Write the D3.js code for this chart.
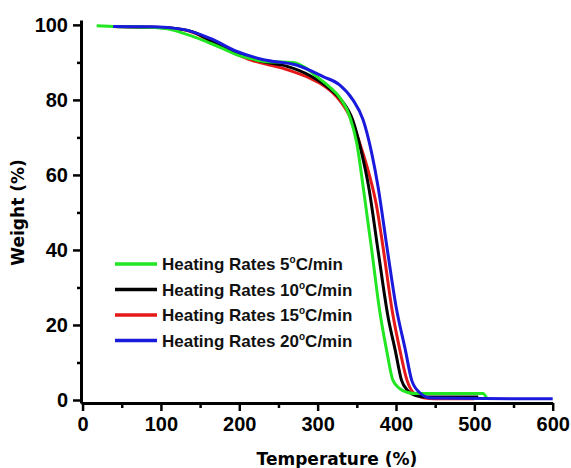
<!DOCTYPE html>
<html>
<head>
<meta charset="utf-8">
<script src="https://cdn.jsdelivr.net/npm/d3@7"></script>
<style>
  html, body { margin: 0; padding: 0; background: #fff; }
  svg { display: block; }
</style>
</head>
<body>
<div id="chart"></div>
<script>
// TGA curves, weight (%) vs temperature, four heating rates

const seriesNames = ['5', '10', '15', '20'];
const seriesColors = ['#22e622', '#000000', '#e41a1a', '#1a1adc'];

const temp5 = [18, 40, 80, 110, 128, 145, 163, 180, 197, 215, 235, 269, 285, 299, 315, 329, 341, 350, 358, 369, 379, 388, 396, 405, 415, 426, 460, 511, 516];
const weight5 = [99.8, 99.6, 99.4, 98.9, 97.8, 96.6, 95.1, 93.6, 92.0, 91.0, 90.2, 90.0, 88.5, 86.2, 83.5, 80.4, 75.6, 68.4, 57, 40, 24, 13.3, 5.3, 3.0, 2.0, 1.7, 1.7, 1.7, 0.4];

const temp10 = [40, 80, 120, 145, 163, 197, 230, 260, 290, 315, 330, 345, 356, 365, 377, 390, 399, 407, 415, 425, 440, 505];
const weight10 = [99.6, 99.4, 99.0, 97.8, 95.8, 92.4, 90.2, 89.0, 86.5, 83.0, 80, 74.5, 66, 57, 40, 22, 13.3, 5.3, 2.5, 1.2, 0.8, 0.8];

const temp15 = [40, 80, 120, 145, 163, 197, 214, 256, 290, 310, 324, 341, 356, 366, 375, 384, 395, 405, 414, 422, 435, 450, 500];
const weight15 = [99.6, 99.4, 99.0, 97.7, 95.6, 92.2, 90.7, 88.4, 85.8, 83.5, 80.9, 75.6, 67, 60, 52, 40, 24, 13.3, 5.3, 2.0, 0.6, 0.3, 0.3];

const temp20 = [39, 86, 128, 163, 197, 231, 273, 307, 328, 345, 358, 369, 377, 389, 400, 412, 420, 430, 445, 600];
const weight20 = [99.6, 99.5, 98.8, 96.4, 92.9, 90.7, 89.3, 86.2, 84.0, 80.0, 74.7, 65.8, 57, 40, 25, 13.3, 5.3, 2.0, 0.5, 0.3];

const xMajor = [0, 100, 200, 300, 400, 500, 600];
const xMinor = [50, 150, 250, 350, 450, 550];
const yMajor = [0, 20, 40, 60, 80, 100];
const yMinor = [10, 30, 50, 70, 90];

const temps = [temp5, temp10, temp15, temp20];
const weights = [weight5, weight10, weight15, weight20];

const width = 571, height = 468;
const svg = d3.select('#chart').append('svg')
    .attr('width', width)
    .attr('height', height);

const x = d3.scaleLinear().domain([-2, 600]).range([81, 552.7]);
const y = d3.scaleLinear().domain([-0.8, 101.3]).range([403, 20]);

const tickFont = '"Liberation Sans", Arial, sans-serif';
const titleFont = '"DejaVu Sans", sans-serif';

// CURVES
const line = d3.line()
    .x(d => x(d[0]))
    .y(d => y(d[1]))
    .curve(d3.curveMonotoneX);

// red, black, green, then blue on top
[2, 1, 0, 3].forEach(i => {
    const pts = temps[i].map((t, k) => [t, weights[i][k]]);
    svg.append('path')
        .datum(pts)
        .attr('fill', 'none')
        .attr('stroke', seriesColors[i])
        .attr('stroke-width', 3)
        .attr('stroke-linejoin', 'round')
        .attr('d', line);
});

// AXES
function styleAxis(g) {
    g.select('.domain').attr('stroke-width', 3).attr('stroke', '#000');
    g.selectAll('.tick line').attr('stroke-width', 2.5).attr('stroke', '#000');
    g.selectAll('text')
        .attr('fill', '#000')
        .style('font-family', tickFont)
        .style('font-weight', 'bold')
        .style('font-size', '20px');
}

svg.append('g')
    .attr('transform', `translate(0,${y(-0.8)})`)
    .call(d3.axisBottom(x).tickValues(xMinor).tickSize(5).tickFormat('').tickSizeOuter(0))
    .call(g => g.select('.domain').remove())
    .call(styleAxis);

svg.append('g')
    .attr('transform', `translate(0,${y(-0.8)})`)
    .call(d3.axisBottom(x).tickValues(xMajor).tickSize(8).tickPadding(6).tickSizeOuter(0))
    .call(styleAxis);

svg.append('g')
    .attr('transform', `translate(${x(-2)},0)`)
    .call(d3.axisLeft(y).tickValues(yMinor).tickSize(4).tickFormat('').tickSizeOuter(0))
    .call(g => g.select('.domain').remove())
    .call(styleAxis);

svg.append('g')
    .attr('transform', `translate(${x(-2)},0)`)
    .call(d3.axisLeft(y).tickValues(yMajor).tickSize(8).tickPadding(5).tickSizeOuter(0))
    .call(styleAxis);

// AXIS TITLES
svg.append('text')
    .attr('x', 337)
    .attr('y', 465)
    .attr('text-anchor', 'middle')
    .style('font-family', titleFont)
    .style('font-weight', 'bold')
    .style('font-size', '17px')
    .text('Temperature (%)');

svg.append('text')
    .attr('transform', `translate(24,${y(50)}) rotate(-90)`)
    .attr('text-anchor', 'middle')
    .style('font-family', titleFont)
    .style('font-weight', 'bold')
    .style('font-size', '17px')
    .text('Weight (%)');

// LEGEND
const legend = svg.append('g').attr('transform', 'translate(115,264)');
seriesNames.forEach((name, i) => {
    const row = legend.append('g').attr('transform', `translate(0,${i * 25.5})`);
    row.append('line')
        .attr('x1', 0).attr('x2', 42)
        .attr('stroke', seriesColors[i])
        .attr('stroke-width', 3.5);
    const t = row.append('text')
        .attr('x', 47)
        .attr('y', 6)
        .style('font-family', tickFont)
        .style('font-weight', 'bold')
        .style('font-size', '17px')
        .attr('fill', '#111');
    t.append('tspan').text(`Heating Rates ${name}`);
    t.append('tspan').attr('dy', -7).style('font-size', '10px').text('o');
    t.append('tspan').attr('dy', 7).text('C/min');
});
</script>
</body>
</html>
